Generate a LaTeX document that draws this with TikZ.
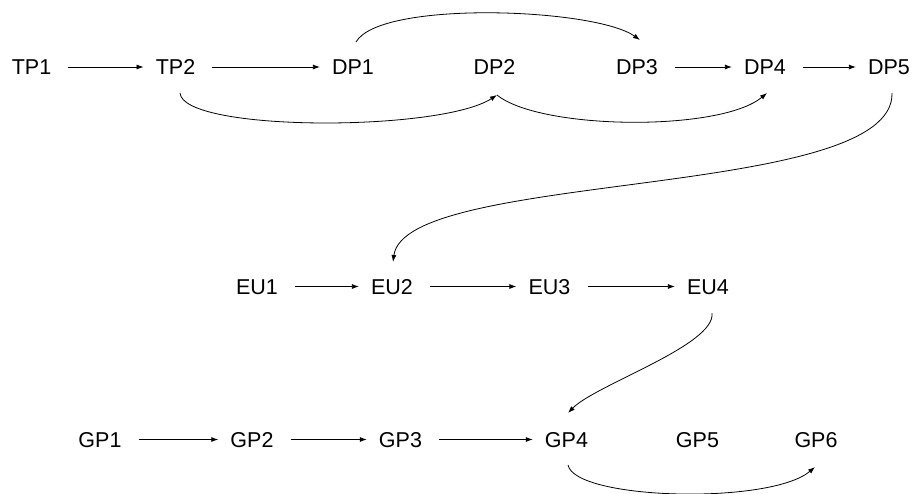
\documentclass[tikz,border=0pt]{standalone}
\usepackage{fontspec}
\setmainfont{Liberation Sans}
\usetikzlibrary{arrows.meta,calc}
\begin{document}
\begin{tikzpicture}[x=1pt,y=-1pt,
  lbl/.style={inner sep=0pt, font=\fontsize{21.5pt}{24pt}\selectfont, text height=15.4pt, text depth=0pt},
  arr/.style={line width=0.8pt, -{Latex[length=7pt,width=5pt]}}]
\useasboundingbox (0,0) rectangle (915,493);
% row 1
\node[lbl] (TP1) at (31.5,67) {TP1};
\node[lbl] (TP2) at (175.5,67) {TP2};
\node[lbl] (DP1) at (353,67) {DP1};
\node[lbl] (DP2) at (494.5,67) {DP2};
\node[lbl] (DP3) at (637,67) {DP3};
\node[lbl] (DP4) at (765,67) {DP4};
\node[lbl] (DP5) at (889,67) {DP5};
% row 2
\node[lbl] (EU1) at (257,286.5) {EU1};
\node[lbl] (EU2) at (392,286.5) {EU2};
\node[lbl] (EU3) at (549.5,286.5) {EU3};
\node[lbl] (EU4) at (708,286.5) {EU4};
% row 3
\node[lbl] (GP1) at (100,439.5) {GP1};
\node[lbl] (GP2) at (252,439.5) {GP2};
\node[lbl] (GP3) at (400.5,439.5) {GP3};
\node[lbl] (GP4) at (566.5,439.5) {GP4};
\node[lbl] (GP5) at (697.5,439.5) {GP5};
\node[lbl] (GP6) at (816,439.5) {GP6};
% straight arrows
\foreach \a/\b in {TP1/TP2, TP2/DP1, DP3/DP4, DP4/DP5, EU1/EU2, EU2/EU3, EU3/EU4, GP1/GP2, GP2/GP3, GP3/GP4}
  \draw[arr] ($(\a.east)+(17,0)$) -- ($(\b.west)+(-12,0)$);
% curved arrows
\draw[arr] ($(DP1)+(3,-25)$) .. controls +(24,-42) and +(-45,-32) .. ($(DP3)+(3,-27)$);
\draw[arr] ($(TP2)+(4.5,26)$) .. controls +(3,39) and +(-57,37) .. ($(DP2)+(2.5,28)$);
\draw[arr] ($(DP2)+(2.5,28)$) .. controls +(43,35) and +(-47,39) .. ($(DP4)+(2,26)$);
\draw[arr] ($(DP5)+(3,26)$) .. controls +(3,107) and +(12,-92) .. ($(EU2)+(1,-24.5)$);
\draw[arr] ($(EU4)+(4,26.5)$) .. controls +(4,32) and +(27,-28) .. ($(GP4)+(1.5,-26.5)$);
\draw[arr] ($(GP4)+(1.5,25.5)$) .. controls +(7,35) and +(-45,38) .. ($(GP6)+(-1,27.5)$);
\end{tikzpicture}
\end{document}
